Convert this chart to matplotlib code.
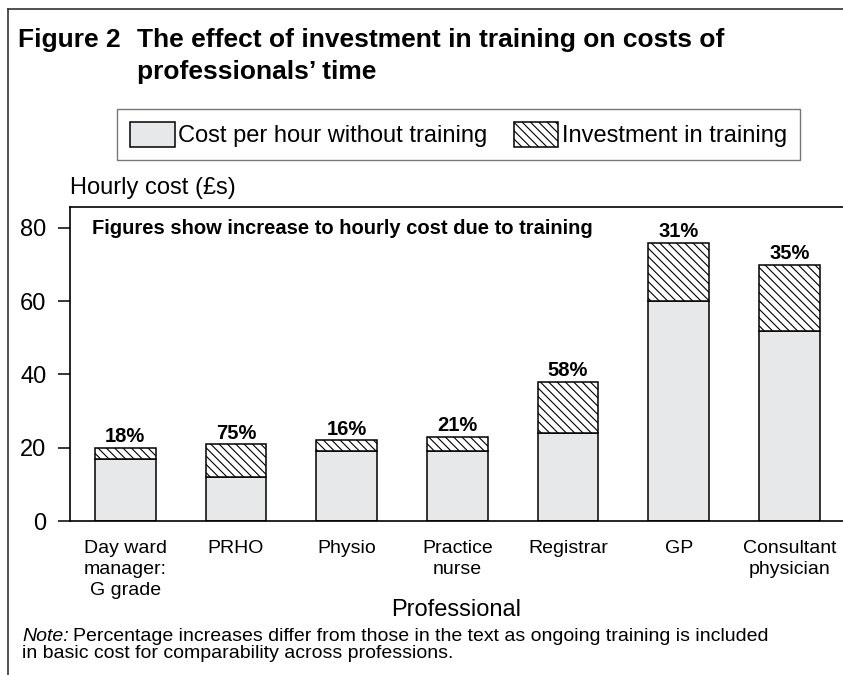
import matplotlib
matplotlib.use("Agg")
import matplotlib.pyplot as plt
from matplotlib.lines import Line2D
import numpy as np

plt.rcParams['font.family'] = ['Liberation Sans', 'DejaVu Sans']
plt.rcParams['hatch.linewidth'] = 0.8

# values (hourly cost in £)
professionals = ["Day ward\nmanager:\nG grade", "PRHO", "Physio", "Practice\nnurse",
                 "Registrar", "GP", "Consultant\nphysician"]
base_cost = [17, 12, 19, 19, 24, 60, 52]
total_cost = [20, 21, 22, 23, 38, 76, 70]
pct_labels = ["18%", "75%", "16%", "21%", "58%", "31%", "35%"]

training = [t - b for t, b in zip(total_cost, base_cost)]

W, H = 843, 675
fig = plt.figure(figsize=(W / 100, H / 100), dpi=100)
ax = fig.add_axes([70 / W, 1 - 521 / H, 773 / W, (521 - 206.7) / H])

x = np.arange(len(professionals))
bars_base = ax.bar(x, base_cost, width=0.55, color="#e7e8ea", edgecolor="black",
                   linewidth=1.1, label="Cost per hour without training")
bars_train = ax.bar(x, training, bottom=base_cost, width=0.55, color="white",
                    edgecolor="black", hatch="\\\\\\\\", linewidth=1.1,
                    label="Investment in training")

# percentage increase above each bar
for xi, top, lab in zip(x, total_cost, pct_labels):
    ax.annotate(lab, (xi, top), xytext=(0, 4), textcoords="offset points",
                ha="center", va="baseline", fontsize=14.5, fontweight="bold")

ax.set_xlim(-0.5, 6.485)
ax.set_ylim(0, 85.8)
ax.set_yticks([0, 20, 40, 60, 80])
ax.tick_params(axis="y", labelsize=17, length=9, width=1.1, pad=8)
ax.set_xticks(x)
ax.set_xticklabels(professionals, fontsize=14, linespacing=1.3)
ax.tick_params(axis="x", length=0, pad=14)

ax.spines["right"].set_visible(False)
for s in ["left", "top", "bottom"]:
    ax.spines[s].set_linewidth(1.2)

ax.set_ylabel("Hourly cost (£s)", fontsize=17, rotation=0, ha="left", va="baseline")
ax.yaxis.set_label_coords(0, (521 - 194) / (521 - 206.7))
ax.set_xlabel("Professional", fontsize=17, va="baseline")
ax.xaxis.set_label_coords(0.5, (521 - 616) / (521 - 206.7))

ax.text((92 - 70) / 773, (521 - 234) / (521 - 206.7),
        "Figures show increase to hourly cost due to training",
        transform=ax.transAxes, fontsize=14.5, fontweight="bold", va="baseline")

leg = fig.legend(handles=[bars_base, bars_train], loc="upper left",
                 bbox_to_anchor=(117 / W, 1 - 109 / H), ncol=2, fontsize=17,
                 frameon=True, fancybox=False, edgecolor="#555555",
                 handlelength=1.9, handleheight=1.25, handletextpad=0.15,
                 columnspacing=1.1, borderpad=0.55, borderaxespad=0)
leg.get_frame().set_linewidth(1.0)

# title
fig.text(18 / W, 1 - 47 / H, "Figure 2", fontsize=19, fontweight="bold", va="baseline")
fig.text(137 / W, 1 - 47 / H, "The effect of investment in training on costs of",
         fontsize=19, fontweight="bold", va="baseline")
fig.text(137 / W, 1 - 79 / H, "professionals\u2019 time",
         fontsize=19, fontweight="bold", va="baseline")

# note below the chart: italic "Note:" followed by regular text
note_fs = 14
note_lbl = fig.text(22 / W, 1 - 641 / H, "Note:", fontsize=note_fs,
                    fontstyle="italic", va="baseline")
fig.canvas.draw()
note_end = note_lbl.get_window_extent(fig.canvas.get_renderer()).x1
fig.text(note_end / W + 4 / W, 1 - 641 / H,
         "Percentage increases differ from those in the text as ongoing training is included",
         fontsize=note_fs, va="baseline")
fig.text(22 / W, 1 - 658.5 / H, "in basic cost for comparability across professions.",
         fontsize=note_fs, va="baseline")

# frame around the figure (left and top edges)
fig.add_artist(Line2D([8 / W, 8 / W], [0, 1 - 9 / H], transform=fig.transFigure,
                      color="#333333", linewidth=1.2))
fig.add_artist(Line2D([8 / W, 1], [1 - 9 / H, 1 - 9 / H], transform=fig.transFigure,
                      color="#333333", linewidth=1.2))

fig.savefig("out.png", dpi=100)
